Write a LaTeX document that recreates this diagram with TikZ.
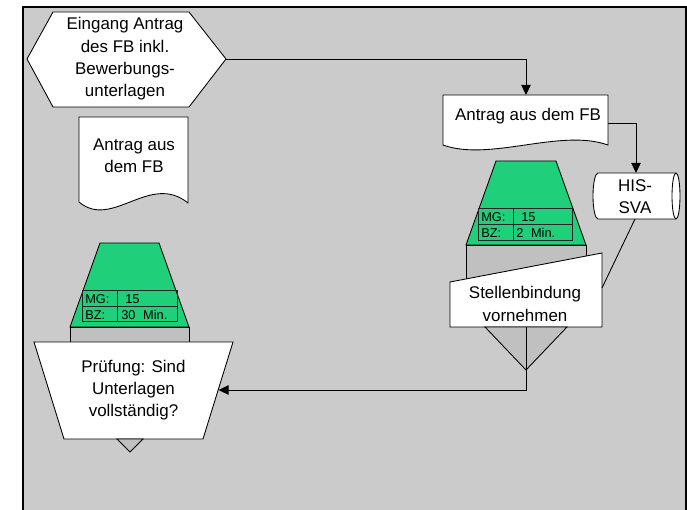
\documentclass[tikz,border=0pt]{standalone}
\usepackage{fontspec}
\setmainfont{Liberation Sans}
\usetikzlibrary{arrows.meta}

\definecolor{panelgray}{RGB}{203,203,203}
\definecolor{basegray}{RGB}{192,192,192}
\definecolor{resgreen}{RGB}{32,207,122}

\tikzset{
  frameline/.style={line width=1.5pt},
  sym/.style={draw=black, line width=0.65pt, line join=miter},
  whitesym/.style={sym, fill=white},
  greensym/.style={sym, fill=resgreen},
  graysym/.style={sym, fill=basegray},
  tabline/.style={draw=black!85, line width=0.75pt},
  label/.style={align=center, inner sep=0pt, font=\fontsize{12.7}{16.7}\selectfont},
  cell/.style={anchor=west, inner sep=0pt, font=\fontsize{9.6}{10}\selectfont},
  conn/.style={draw=black, line width=0.65pt},
  arr/.style={conn, -{Triangle[length=7.5pt,width=7pt]}}
}

\begin{document}
\begin{tikzpicture}[x=0.75pt, y=-0.75pt]
\useasboundingbox (0,0) rectangle (687,510);

% panel with open lower edge
\fill[panelgray] (23,7) rectangle (686,515);
\draw[frameline] (23,515) -- (23,7) -- (686,7) -- (686,515);

% --- left column ---
% event: incoming application
\draw[whitesym] (27,59) -- (53,12) -- (189,12) -- (226,59) -- (189,107) -- (53,107) -- cycle;
\node[label] (eingang) at (125,59) {Eingang Antrag\\des FB inkl.\\Bewerbungs-\\unterlagen};
\coordinate (eingangR) at (226,59);

% document
\draw[whitesym] (79,117) -- (188,117) -- (188,203)
  .. controls (150,172) and (112,230) .. (79,202) -- cycle;
\node[label] (docL) at (134,156) {Antrag aus\\dem FB};

% resource block for the check
\draw[greensym] (100,243) -- (159,243) -- (189,327) -- (70,327) -- cycle;
\draw[graysym] (70,327) rectangle (189,342);
\draw[tabline] (82,291) rectangle (177,322);
\draw[tabline] (82,307) -- (177,307);
\draw[tabline] (117,291) -- (117,322);
\node[cell] (mgL) at (85,299.5) {MG:};
\node[cell] (mgLv) at (125,299.5) {15};
\node[cell] (bzL) at (85,315) {BZ:};
\node[cell] (bzLv) at (121,315) {30\hspace{0.6em}Min.};

% manual operation: check
\draw[whitesym] (34,342) -- (233,342) -- (203,439) -- (64,439) -- cycle;
\node[label] (pruef) at (133.5,390) {Prüfung: Sind\\Unterlagen\\vollständig?};
\coordinate (pruefR) at (218.5,390);
\draw[graysym] (117,439) -- (143,439) -- (130,452) -- cycle;

% --- right column ---
% document
\draw[whitesym] (443,95) -- (608,95) -- (608,145)
  .. controls (560,128) and (490,162) .. (443,145) -- cycle;
\node[label] (docR) at (528,116) {Antrag aus dem FB};
\coordinate (docRtop) at (526,95);
\coordinate (docRright) at (608,123);

% database cylinder
\draw[whitesym] (676,173) -- (598,173)
  arc[start angle=270, end angle=90, x radius=5, y radius=23]
  -- (676,219)
  arc[start angle=90, end angle=-90, x radius=4, y radius=23] -- cycle;
\draw[sym] (676,173) arc[start angle=270, end angle=90, x radius=4, y radius=23];
\node[label] (his) at (635,197) {HIS-\\SVA};
\coordinate (hisTop) at (636,173);
\coordinate (hisBot) at (635,219);

% resource block for the booking step
\draw[greensym] (496,161) -- (556,161) -- (586,245) -- (466,245) -- cycle;
\draw[graysym] (466,245) rectangle (586,300);
\draw[tabline] (478,209) rectangle (572,241);
\draw[tabline] (478,225) -- (572,225);
\draw[tabline] (513,209) -- (513,241);
\node[cell] (mgR) at (481,217.5) {MG:};
\node[cell] (mgRv) at (521,217.5) {15};
\node[cell] (bzR) at (481,233) {BZ:};
\node[cell] (bzRv) at (516,233) {2\hspace{0.6em}Min.};

% manual input: booking
\draw[whitesym] (450,282) -- (602,253) -- (602,327) -- (450,327) -- cycle;
\node[label] (stel) at (525,304) {Stellenbindung\\vornehmen};
\coordinate (stelRight) at (602,288);
\coordinate (stelBot) at (526,327);
\draw[graysym] (485,327) -- (567,327) -- (526,370) -- cycle;

% --- connectors ---
\draw[arr] (eingangR) -| (docRtop);
\draw[arr] (docRright) -| (hisTop);
\draw[conn] (hisBot) -- (stelRight);
\draw[arr] (stelBot) |- (pruefR);

\end{tikzpicture}
\end{document}
